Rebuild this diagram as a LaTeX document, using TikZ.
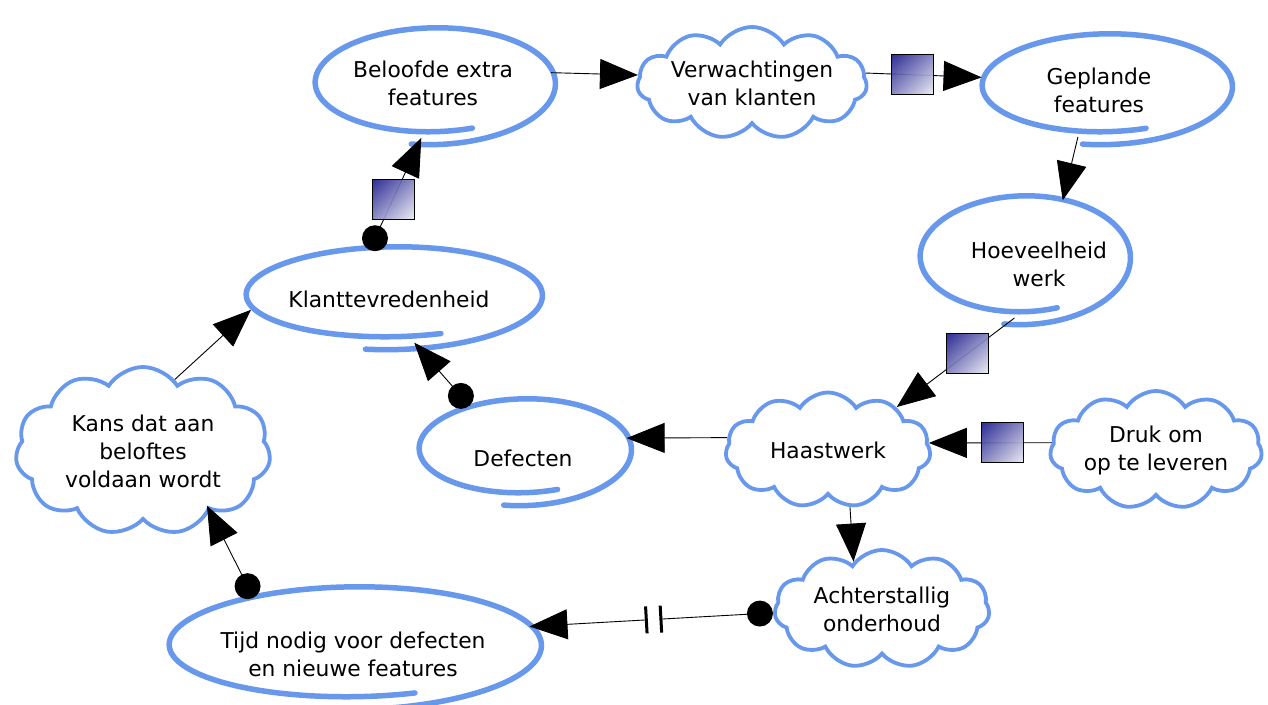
\documentclass[tikz,border=0pt]{standalone}
\usepackage{fontspec}
\setmainfont{DejaVu Sans}
\usetikzlibrary{shapes.geometric,shapes.symbols,arrows.meta,calc,shadings}
\definecolor{penblue}{RGB}{104,152,236}
\definecolor{sqnavy}{RGB}{28,28,140}
\newcommand\handell[4]{%
  \draw[penstroke] plot[domain=100:-290,samples=160,smooth,variable=\t]
  ({#1+(#3+5-10*(100-\t)/390)*cos(\t)},{#2+(#4+7-14*(100-\t)/390)*sin(\t)});}
\begin{document}
\begin{tikzpicture}[x=1pt,y=-1pt,
  font=\fontsize{21.8}{28}\selectfont,
  penstroke/.style={draw=penblue,line width=5.5pt,line cap=round},
  ell/.style={ellipse,inner sep=0pt},
  lbl/.style={align=center,inner sep=0pt},
  cld/.style={cloud,cloud puffs=11,cloud puff arc=115,cloud ignores aspect,
    draw=penblue,line width=3.8pt,fill=white,align=center,inner sep=0pt},
  conn/.style={line width=0.9pt,-{Triangle[length=38pt,width=30pt]}},
  sq/.style={rectangle,draw=black,line width=0.8pt,minimum width=42pt,minimum height=40pt,inner sep=0pt,
    upper left=sqnavy,upper right=sqnavy!55!white,lower left=sqnavy!55!white,lower right=sqnavy!8!white,fill opacity=0.92},
  dot/.style={circle,fill=black,minimum size=26pt,inner sep=0pt},
  bar/.style={rectangle,fill=black,minimum width=3pt,minimum height=27pt,inner sep=0pt,sloped},
  gap/.style={rectangle,fill=white,minimum width=12pt,minimum height=4pt,inner sep=0pt,sloped}]
\useasboundingbox[fill=white] (0,0) rectangle (1268,704);

% hand-drawn ellipses
\handell{433}{83}{120}{55}
\handell{1105}{86}{125}{52}
\handell{1023}{257}{105}{61}
\handell{523}{449}{106}{50}
\handell{392}{295}{148}{48}
\handell{353}{645}{186}{58}

% ellipse nodes
\node[ell,minimum width=240pt,minimum height=110pt,label={[lbl]center:Beloofde extra\\features}] (bel) at (433,83) {};
\node[ell,minimum width=250pt,minimum height=104pt,label={[lbl,xshift=-6pt,yshift=-4pt]center:Geplande\\features}] (gepl) at (1105,86) {};
\node[ell,minimum width=210pt,minimum height=122pt,label={[lbl,xshift=16pt,yshift=-7pt]center:Hoeveelheid\\werk}] (hoev) at (1023,257) {};
\node[ell,minimum width=212pt,minimum height=100pt,label={[lbl,yshift=-9pt]center:Defecten}] (def) at (523,449) {};
\node[ell,minimum width=296pt,minimum height=96pt,label={[lbl,xshift=-3pt,yshift=-4pt]center:Klanttevredenheid}] (klant) at (392,295) {};
\node[ell,minimum width=372pt,minimum height=116pt,label={[lbl,yshift=-9pt]center:Tijd nodig voor defecten\\en nieuwe features}] (tijd) at (353,645) {};

% cloud nodes
\node[cld,minimum width=208pt,minimum height=112pt] (verw) at (752,83) {Verwachtingen\\van klanten};
\node[cld,minimum width=205pt,minimum height=115pt] (hast) at (828,450) {Haastwerk};
\node[cld,minimum width=212pt,minimum height=118pt] (druk) at (1156,450) {Druk om\\op te leveren};
\node[cld,minimum width=255pt,minimum height=168pt] (kans) at (143,451) {Kans dat aan\\beloftes\\voldaan wordt};
\node[cld,minimum width=215pt,minimum height=118pt] (acht) at (882,609) {Achterstallig\\onderhoud};

% connectors
\draw[conn] (bel.5) -- (verw.176);
\draw[conn] (verw.5) -- node[sq,pos=0.40] (sq1) {} (gepl.176);
\draw[conn] (gepl.242) -- (hoev.55);
\draw[conn] (hoev.262) -- node[sq,pos=0.40] (sq2) {} (hast.32);
\draw[conn] (druk.176) -- node[sq,pos=0.40] (sq3) {} (hast.4);
\draw[conn] (hast.173) -- (def.6);
\draw[conn] (hast.291) -- (acht.121);
\draw[conn] (acht.182) -- node[gap,pos=0.49] (g1) {} node[bar,pos=0.46] (b1) {} node[bar,pos=0.52] (b2) {} (tijd.6);
\node[dot] (d1) at ($(acht.182)!13pt!(tijd.6)$) {};
\draw[conn,shorten >=-6pt] (tijd.154) -- (kans.318);
\node[dot] (d2) at ($(tijd.154)!11pt!(kans.318)$) {};
\draw[conn] (def.141) -- (klant.295);
\node[dot] (d3) at ($(def.141)!13pt!(klant.295)$) {};
\draw[conn] (kans.66) -- (klant.186);
\draw[conn] (klant.114) -- node[sq,pos=0.44] (sq4) {} (bel.258);
\node[dot] (d4) at ($(klant.114)!10pt!(bel.258)$) {};
\end{tikzpicture}
\end{document}
